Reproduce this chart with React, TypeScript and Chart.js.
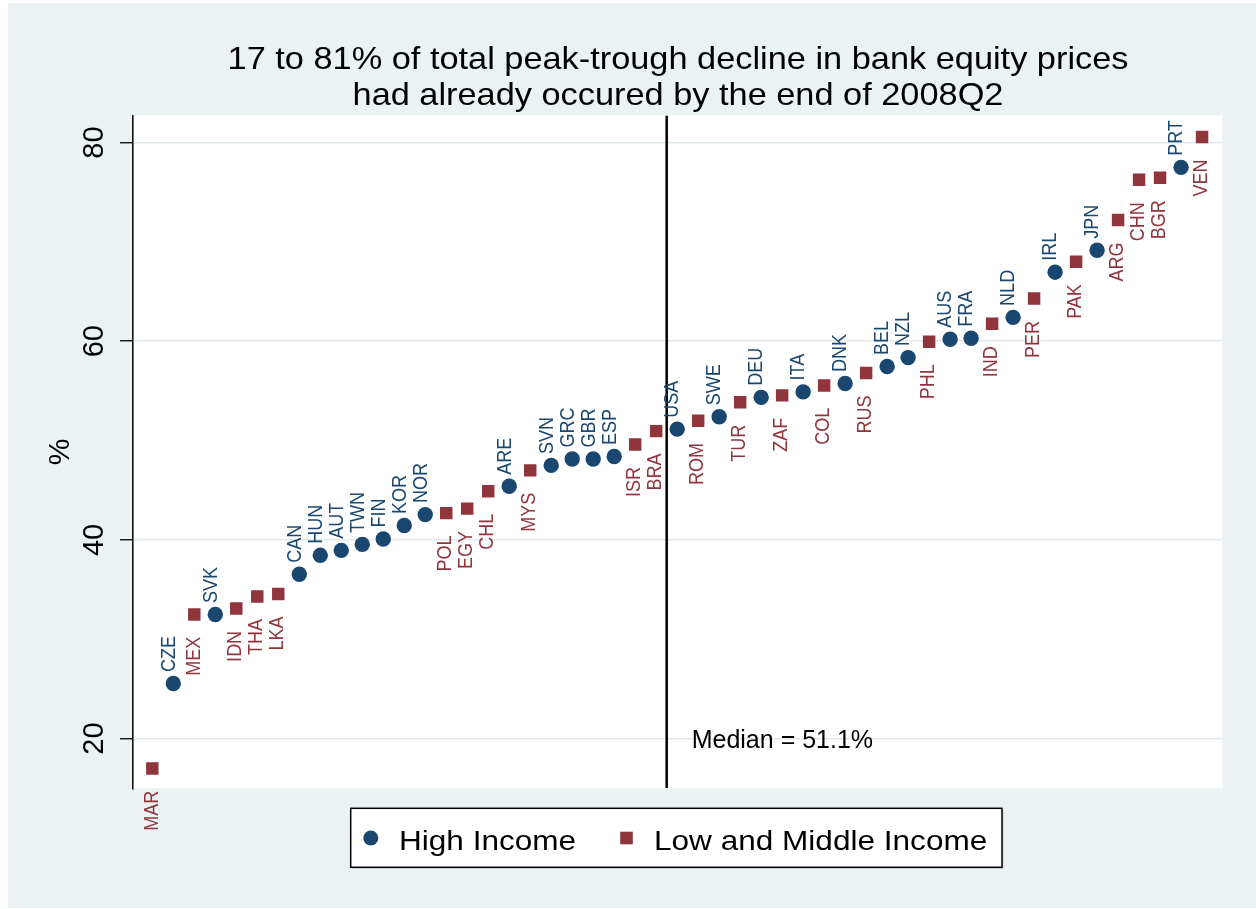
import React, { useEffect, useRef } from 'react';
import { Chart, registerables } from 'chart.js';

Chart.register(...registerables);

// ---------- data ----------
const COUNTRIES = [
  'MAR', 'CZE', 'MEX', 'SVK', 'IDN', 'THA', 'LKA', 'CAN', 'HUN', 'AUT',
  'TWN', 'FIN', 'KOR', 'NOR', 'POL', 'EGY', 'CHL', 'ARE', 'MYS', 'SVN',
  'GRC', 'GBR', 'ESP', 'ISR', 'BRA', 'USA', 'ROM', 'SWE', 'TUR', 'DEU',
  'ZAF', 'ITA', 'COL', 'DNK', 'RUS', 'BEL', 'NZL', 'PHL', 'AUS', 'FRA',
  'IND', 'NLD', 'PER', 'IRL', 'PAK', 'JPN', 'ARG', 'CHN', 'BGR', 'PRT',
  'VEN',
];
const VALUES = [
  17.0, 25.55, 32.5, 32.5, 33.1, 34.3, 34.55, 36.55, 38.45, 38.95,
  39.55, 40.1, 41.45, 42.55, 42.7, 43.15, 44.9, 45.4, 47.0, 47.5,
  48.15, 48.15, 48.4, 49.6, 50.95, 51.15, 52.0, 52.4, 53.85, 54.35,
  54.55, 54.9, 55.55, 55.75, 56.8, 57.45, 58.35, 59.95, 60.2, 60.3,
  61.75, 62.4, 64.3, 66.95, 68.0, 69.15, 72.2, 76.25, 76.45, 77.5,
  80.55,
];
// H = High Income, L = Low and Middle Income
const GROUPS = [
  'L', 'H', 'L', 'H', 'L', 'L', 'L', 'H', 'H', 'H',
  'H', 'H', 'H', 'H', 'L', 'L', 'L', 'H', 'L', 'H',
  'H', 'H', 'H', 'L', 'L', 'H', 'L', 'H', 'L', 'H',
  'L', 'H', 'L', 'H', 'L', 'H', 'H', 'L', 'H', 'H',
  'L', 'H', 'L', 'H', 'L', 'H', 'L', 'L', 'L', 'H',
  'L',
];
const Y_TICKS = [20, 40, 60, 80];
const MEDIAN_POSITION = 25.5;
const MEDIAN_LABEL = 'Median = 51.1%';
const TITLE_LINES = [
  '17 to 81% of total peak-trough decline in bank equity prices',
  'had already occured by the end of 2008Q2',
];
const LEGEND_LABELS = ['High Income', 'Low and Middle Income'];
const Y_TITLE = '%';

// axis ranges
const Y_MIN = 15.0;
const Y_MAX = 82.72;
const X_MIN = 0.08;
const X_MAX = 51.95;

// ---------- style ----------
const NAVY = '#1a476f';
const MAROON = '#90353b';
const BG = '#eaf2f3';
const GRID = '#e1eaed';
const FONT = "'Liberation Sans', Arial, Helvetica, sans-serif";

const HIGH_IDX = GROUPS.map((g, i) => (g === 'H' ? i : -1)).filter((i) => i >= 0);
const LOW_IDX = GROUPS.map((g, i) => (g === 'L' ? i : -1)).filter((i) => i >= 0);

type TextOpts = {
  size: number;
  color: string;
  align?: CanvasTextAlign;
  baseline?: CanvasTextBaseline;
  rotate?: number;
  sx?: number;
};

function drawText(ctx: CanvasRenderingContext2D, text: string, x: number, y: number, o: TextOpts) {
  ctx.save();
  ctx.translate(x, y);
  ctx.scale(o.sx ?? 1, 1);
  if (o.rotate) ctx.rotate(o.rotate);
  ctx.font = `${o.size}px ${FONT}`;
  ctx.fillStyle = o.color;
  ctx.textAlign = o.align ?? 'left';
  ctx.textBaseline = o.baseline ?? 'alphabetic';
  ctx.fillText(text, 0, 0);
  ctx.restore();
}

const decorPlugin = {
  id: 'stataDecor',
  beforeDraw(chart: any) {
    const { ctx, chartArea } = chart;
    ctx.save();
    ctx.fillStyle = '#ffffff';
    ctx.fillRect(0, 0, chart.width, chart.height);
    ctx.fillStyle = BG;
    ctx.fillRect(8, 3, chart.width - 8, 905);
    ctx.fillStyle = '#ffffff';
    ctx.fillRect(chartArea.left, chartArea.top, chartArea.right - chartArea.left, chartArea.bottom - chartArea.top);
    ctx.restore();
  },
  afterDatasetsDraw(chart: any) {
    const { ctx } = chart;
    const labelSize = 18;
    const sx = 1.12;
    const hi = chart.getDatasetMeta(0);
    hi.data.forEach((el: any, j: number) => {
      drawText(ctx, COUNTRIES[HIGH_IDX[j]], el.x + 1.3, el.y - 11.5, {
        size: labelSize, color: NAVY, align: 'left', rotate: -Math.PI / 2, sx,
      });
    });
    const lo = chart.getDatasetMeta(1);
    lo.data.forEach((el: any, j: number) => {
      drawText(ctx, COUNTRIES[LOW_IDX[j]], el.x + 5.2, el.y + 22.4, {
        size: labelSize, color: MAROON, align: 'right', rotate: -Math.PI / 2, sx,
      });
    });
    const xs = chart.scales.x;
    const ys = chart.scales.y;
    drawText(ctx, MEDIAN_LABEL, xs.getPixelForValue(MEDIAN_POSITION) + 25, ys.getPixelForValue(20) + 9.7, {
      size: 25, color: '#000', align: 'left',
    });
  },
  afterDraw(chart: any) {
    const { ctx, chartArea } = chart;
    const cx = (chartArea.left + chartArea.right) / 2;
    // title
    drawText(ctx, TITLE_LINES[0], cx + 0.5, 69.3, { size: 31.5, color: '#000', align: 'center', sx: 1.09 });
    drawText(ctx, TITLE_LINES[1], cx + 0.5, 105, { size: 31.5, color: '#000', align: 'center', sx: 1.09 });
    // legend
    const bx = 350.7, by = 808.3, bw = 651.3, bh = 59;
    ctx.save();
    ctx.fillStyle = '#c9cfd1';
    ctx.fillRect(bx + 1.5, by + 1.5, bw, bh);
    ctx.fillStyle = '#ffffff';
    ctx.fillRect(bx, by, bw, bh);
    ctx.strokeStyle = '#000';
    ctx.lineWidth = 1.5;
    ctx.strokeRect(bx, by, bw, bh);
    ctx.fillStyle = NAVY;
    ctx.beginPath();
    ctx.arc(370.8, 838, 7.5, 0, Math.PI * 2);
    ctx.fill();
    ctx.fillStyle = MAROON;
    ctx.fillRect(626.5 - 6.3, 838 - 6.3, 12.6, 12.6);
    ctx.restore();
    drawText(ctx, LEGEND_LABELS[0], 399, 850, { size: 28, color: '#000', sx: 1.127 });
    drawText(ctx, LEGEND_LABELS[1], 654, 850, { size: 28, color: '#000', sx: 1.127 });
  },
};

export default function App() {
  const canvasRef = useRef<HTMLCanvasElement | null>(null);

  useEffect(() => {
    const canvas = canvasRef.current;
    if (!canvas) return;
    const chart = new Chart(canvas, {
      type: 'scatter',
      data: {
        datasets: [
          {
            label: LEGEND_LABELS[0],
            data: HIGH_IDX.map((i) => ({ x: i + 1, y: VALUES[i] })),
            pointStyle: 'circle',
            pointRadius: 7.7,
            pointBackgroundColor: NAVY,
            pointBorderWidth: 0,
            borderColor: NAVY,
          },
          {
            label: LEGEND_LABELS[1],
            data: LOW_IDX.map((i) => ({ x: i + 1, y: VALUES[i] })),
            pointStyle: 'rect',
            pointRadius: 8.8,
            pointBackgroundColor: MAROON,
            pointBorderWidth: 0,
            borderColor: MAROON,
          },
          {
            label: 'Median',
            data: [
              { x: MEDIAN_POSITION, y: Y_MIN },
              { x: MEDIAN_POSITION, y: Y_MAX },
            ],
            showLine: true,
            pointRadius: 0,
            borderColor: '#000',
            borderWidth: 2.5,
          } as any,
        ],
      },
      options: {
        responsive: false,
        animation: false,
        events: [],
        layout: { padding: { left: 43, right: 34, top: 115.5, bottom: 120.7 } },
        plugins: {
          legend: { display: false },
          title: { display: false },
          tooltip: { enabled: false },
        },
        scales: {
          x: { type: 'linear', min: X_MIN, max: X_MAX, display: false },
          y: {
            type: 'linear',
            min: Y_MIN,
            max: Y_MAX,
            afterBuildTicks: (s: any) => {
              s.ticks = Y_TICKS.map((value) => ({ value }));
            },
            afterFit: (s: any) => {
              s.width = 90;
            },
            ticks: {
              minRotation: 90,
              maxRotation: 90,
              crossAlign: 'center',
              padding: 9,
              color: '#000',
              font: { family: FONT, size: 29 },
            },
            grid: {
              color: GRID,
              lineWidth: 1.5,
              tickLength: 13,
              tickColor: '#000',
              tickWidth: 1.3,
              drawTicks: true,
            },
            border: { display: true, color: '#111', width: 1.6 },
            title: {
              display: true,
              text: Y_TITLE,
              color: '#000',
              font: { family: FONT, size: 30, lineHeight: 1.2 },
              padding: { top: 0, bottom: 0 },
            },
          },
        },
      } as any,
      plugins: [decorPlugin],
    });
    return () => chart.destroy();
  }, []);

  return (
    <div style={{ position: 'absolute', left: 0, top: 0, width: 1256, height: 909 }}>
      <canvas ref={canvasRef} width={1256} height={909} style={{ display: 'block' }} />
    </div>
  );
}
